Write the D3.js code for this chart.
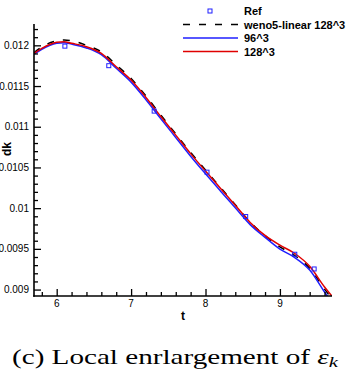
<!DOCTYPE html>
<html>
<head>
<meta charset="utf-8">
<script src="https://cdn.jsdelivr.net/npm/d3@7"></script>
<style>
  body { margin: 0; background: #fff; }
  svg { display: block; }
</style>
</head>
<body>
<svg id="chart" width="362" height="388"></svg>
<script>
// time samples shared by the three simulated curves
const tVals = [5.695, 5.8, 6.0, 6.1, 6.2, 6.4, 6.6, 6.8, 7.0, 7.2, 7.4, 7.6, 7.8, 8.0, 8.2, 8.4, 8.6, 8.8, 9.0, 9.2, 9.4, 9.6, 9.7];

const weno5Linear128 = [0.01191, 0.01198, 0.012055, 0.012065, 0.012055, 0.012, 0.01192, 0.01176, 0.011592, 0.011378, 0.011142, 0.010912, 0.010685, 0.010468, 0.010255, 0.010042, 0.009828, 0.009662, 0.009525, 0.009418, 0.009262, 0.009005, 0.008885];
const grid96 = [0.011892, 0.011952, 0.012025, 0.012033, 0.012015, 0.011968, 0.011885, 0.011718, 0.011548, 0.011332, 0.011098, 0.010868, 0.010638, 0.010422, 0.010212, 0.010005, 0.009798, 0.009642, 0.009497, 0.009393, 0.00924, 0.00897, 0.00884];
const grid128 = [0.011902, 0.011963, 0.012037, 0.012044, 0.012025, 0.011983, 0.011902, 0.011737, 0.011573, 0.01136, 0.011125, 0.010897, 0.01067, 0.010455, 0.010245, 0.010036, 0.009825, 0.009665, 0.009545, 0.009443, 0.009286, 0.009032, 0.008918];

// reference points
const refT = [6.11, 6.70, 7.31, 8.02, 8.54, 9.20, 9.46];
const refDk = [0.01199, 0.01175, 0.011192, 0.010442, 0.009897, 0.009434, 0.009253];

const xTicks = [6, 7, 8, 9];
const yTicks = [0.009, 0.0095, 0.01, 0.0105, 0.011, 0.0115, 0.012];
const yTickLabels = ['0.009', '0.0095', '0.01', '0.0105', '0.011', '0.0115', '0.012'];

const series = [
    { name: 'weno5-linear 128^3', values: weno5Linear128, color: '#000', dash: '7,9' },
    { name: '96^3', values: grid96, color: '#1f1fff', dash: null },
    { name: '128^3', values: grid128, color: '#e00000', dash: null }
];

const svg = d3.select('#chart');

const pLeft = 34, pRight = 332, pTop = 24, pBottom = 296;

const x = d3.scaleLinear().domain([5.695, 9.70]).range([pLeft, pRight]);
const y = d3.scaleLinear().domain([0.008921, 0.012262]).range([pBottom, pTop]);

svg.append('clipPath').attr('id', 'plotclip')
    .append('rect')
    .attr('x', pLeft).attr('y', pTop)
    .attr('width', pRight - pLeft).attr('height', pBottom - pTop);

const line = d3.line()
    .x(d => x(d[0]))
    .y(d => y(d[1]))
    .curve(d3.curveMonotoneX);

const plot = svg.append('g').attr('clip-path', 'url(#plotclip)');

series.forEach(s => {
    plot.append('path')
        .datum(tVals.map((t, i) => [t, s.values[i]]))
        .attr('d', line)
        .attr('fill', 'none')
        .attr('stroke', s.color)
        .attr('stroke-width', 1.5)
        .attr('stroke-dasharray', s.dash);
});

plot.selectAll('rect.ref')
    .data(refT.map((t, i) => [t, refDk[i]]))
    .enter().append('rect')
    .attr('class', 'ref')
    .attr('x', d => x(d[0]) - 2)
    .attr('y', d => y(d[1]) - 2)
    .attr('width', 4)
    .attr('height', 4)
    .attr('fill', 'none')
    .attr('stroke', '#1f1fff')
    .attr('stroke-width', 1);

// axes (ticks point inwards)
const fmtY = d => yTickLabels[yTicks.indexOf(d)];

const yAxis = d3.axisRight(y)
    .tickValues(yTicks)
    .tickSize(7)
    .tickFormat('');
const yMinor = d3.axisRight(y)
    .tickValues(d3.range(0.0090, 0.01225, 0.0001).filter(v => !yTicks.some(t => Math.abs(t - v) < 1e-7)))
    .tickSize(4)
    .tickFormat('');

const xAxis = d3.axisTop(x)
    .tickValues(xTicks)
    .tickSize(7)
    .tickFormat('');
const xMinor = d3.axisTop(x)
    .tickValues(d3.range(5.8, 9.7, 0.2).filter(v => !xTicks.some(t => Math.abs(t - v) < 1e-7)))
    .tickSize(4)
    .tickFormat('');

[yAxis, yMinor].forEach(ax => {
    svg.append('g').attr('transform', `translate(${pLeft},0)`).call(ax);
});
[xAxis, xMinor].forEach(ax => {
    svg.append('g').attr('transform', `translate(0,${pBottom})`).call(ax);
});

svg.selectAll('.domain').remove();
svg.selectAll('.tick line').attr('stroke', '#000').attr('stroke-width', 1.3);

svg.append('line')
    .attr('x1', pLeft).attr('x2', pLeft)
    .attr('y1', pTop).attr('y2', pBottom + 0.8)
    .attr('stroke', '#000').attr('stroke-width', 1.6);
svg.append('line')
    .attr('x1', pLeft - 0.8).attr('x2', pRight)
    .attr('y1', pBottom).attr('y2', pBottom)
    .attr('stroke', '#000').attr('stroke-width', 1.6);

const tickFont = 'Liberation Sans, Arial, sans-serif';

svg.selectAll('text.ylab')
    .data(yTicks)
    .enter().append('text')
    .attr('class', 'ylab')
    .attr('x', 29)
    .attr('y', d => y(d) + 3.6)
    .attr('text-anchor', 'end')
    .attr('font-family', tickFont)
    .attr('font-size', 10)
    .text(fmtY);

svg.selectAll('text.xlab')
    .data(xTicks)
    .enter().append('text')
    .attr('class', 'xlab')
    .attr('x', d => x(d))
    .attr('y', 307)
    .attr('text-anchor', 'middle')
    .attr('font-family', tickFont)
    .attr('font-size', 10)
    .text(d => d);

svg.append('text')
    .attr('x', 183).attr('y', 320)
    .attr('text-anchor', 'middle')
    .attr('font-family', tickFont)
    .attr('font-weight', 'bold')
    .attr('font-size', 12)
    .text('t');

svg.append('text')
    .attr('transform', 'translate(10.5,149) rotate(-90)')
    .attr('text-anchor', 'middle')
    .attr('font-family', tickFont)
    .attr('font-weight', 'bold')
    .attr('font-size', 12)
    .text('dk');

// legend
const legendRows = [{ name: 'Ref', marker: true }].concat(series);
const legend = svg.append('g');
legendRows.forEach((r, i) => {
    const cy = 11 + i * 13.5;
    if (r.marker) {
        legend.append('rect')
            .attr('x', 208).attr('y', cy - 2)
            .attr('width', 4).attr('height', 4)
            .attr('fill', 'none').attr('stroke', '#1f1fff').attr('stroke-width', 1);
    } else {
        legend.append('line')
            .attr('x1', 183).attr('x2', 238)
            .attr('y1', cy).attr('y2', cy)
            .attr('stroke', r.color).attr('stroke-width', 1.5)
            .attr('stroke-dasharray', r.dash);
    }
    legend.append('text')
        .attr('x', 244).attr('y', cy + 4)
        .attr('font-family', tickFont)
        .attr('font-weight', 'bold')
        .attr('font-size', 11)
        .text(r.name);
});

// caption
const cap = svg.append('text')
    .attr('x', 12).attr('y', 364)
    .attr('font-family', 'Liberation Serif, Times New Roman, serif')
    .attr('font-size', 21)
    .attr('textLength', 326)
    .attr('lengthAdjust', 'spacingAndGlyphs');
cap.append('tspan').text('(c) Local enrlargement of ');
cap.append('tspan').attr('font-style', 'italic').text('ε');
cap.append('tspan').attr('font-style', 'italic').attr('font-size', 15).attr('dy', 3).text('k');
</script>
</body>
</html>
